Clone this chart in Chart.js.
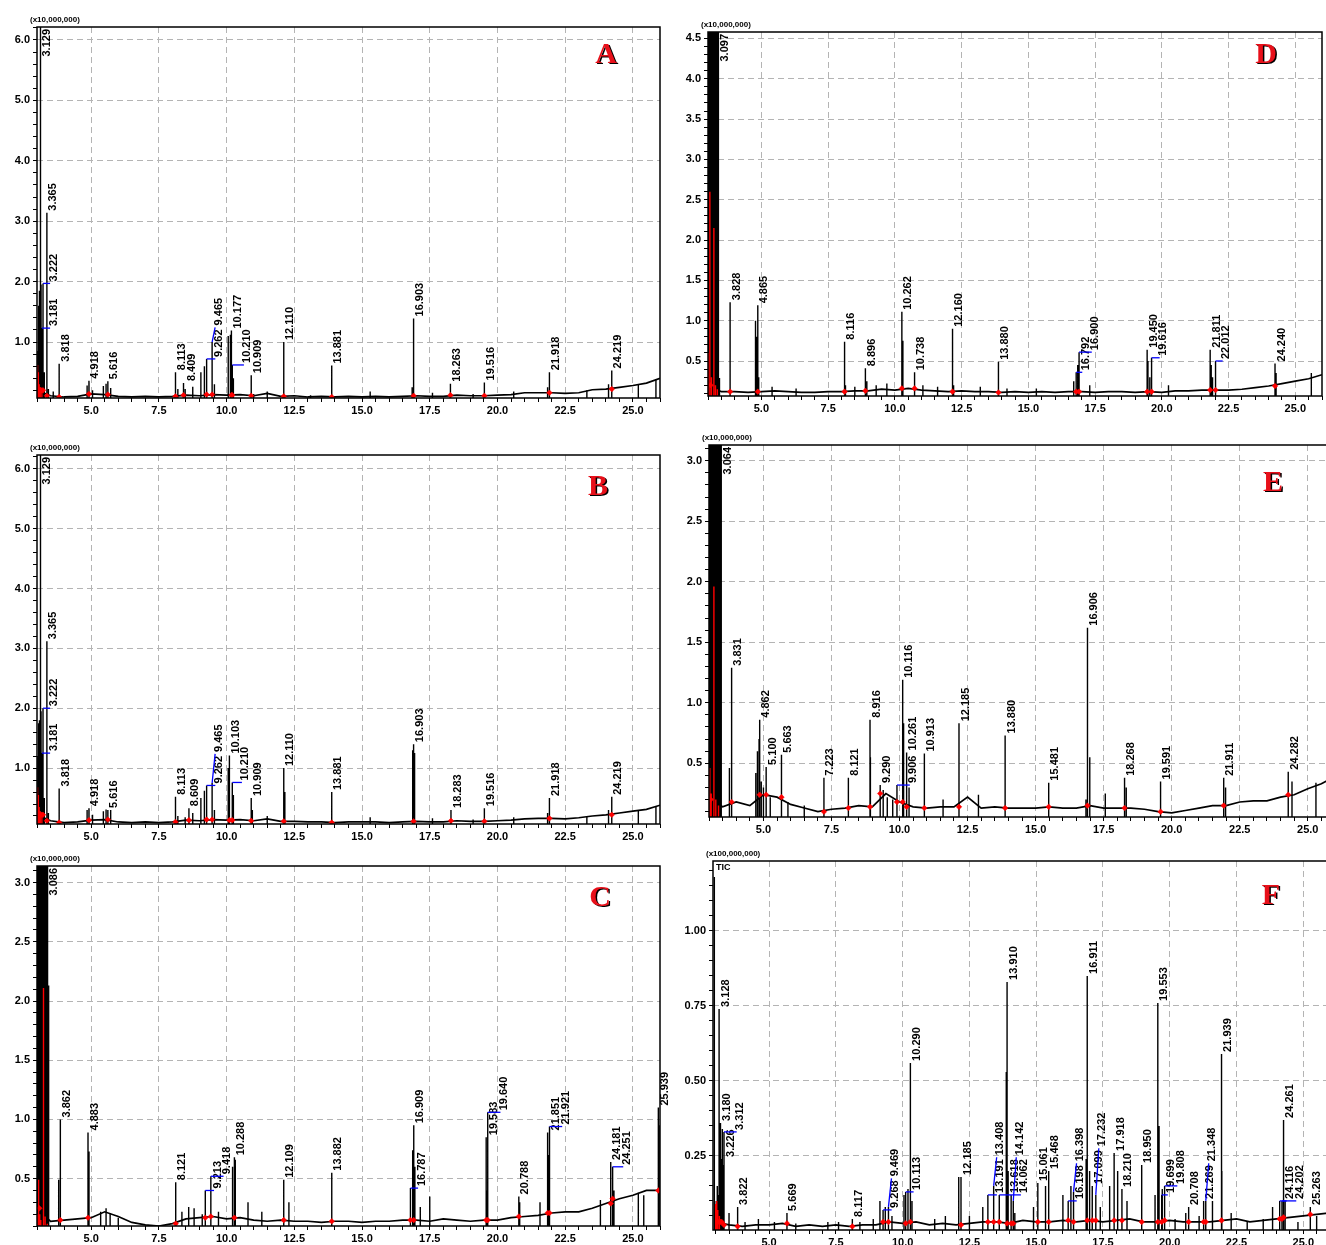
<!DOCTYPE html>
<html>
<head>
<meta charset="utf-8">
<script src="https://cdn.jsdelivr.net/npm/chart.js@4.4.1/dist/chart.umd.min.js"></script>
<style>
  html, body { margin: 0; padding: 0; background: #fff; overflow: hidden; width: 1326px; height: 1245px; }
  .panel { position: absolute; }
</style>
</head>
<body>
<script>
// baseline sampling times (min), shared by all six traces
const baseT = [3.0,3.5,4.0,4.5,5.0,5.5,6.0,6.5,7.0,7.5,8.0,8.5,9.0,9.5,10.0,10.5,11.0,11.5,12.0,12.5,13.0,13.5,14.0,14.5,15.0,15.5,16.0,16.5,17.0,17.5,18.0,18.5,19.0,19.5,20.0,20.5,21.0,21.5,22.0,22.5,23.0,23.5,24.0,24.5,25.0,25.5,26.0];

// ---- A ----
const baseA = [.20,.11,.09,.10,.14,.13,.10,.09,.10,.09, .10,.12,.11,.13,.12,.13,.11,.15,.10,.11, .09,.10,.09,.10,.09,.10,.09,.10,.11,.10, .10,.12,.11,.11,.12,.13,.16,.16,.16,.15, .16,.21,.22,.25,.28,.32,.40];
const rtA = [3.129,3.181,3.222,3.365,3.818,4.918,5.616,8.113,8.409,9.262,9.465,10.177,10.210,10.909,12.110,13.881,16.903,18.263,19.516,21.918,24.219];
const htA = [9,1.23,1.97,3.14,0.64,0.36,0.35,0.50,0.32,0.72,1.00,1.19,0.62,0.45,1.00,0.61,1.39,0.31,0.33,0.50,0.53];
const mrtA = [3.03,3.06,3.09,3.15,3.27,3.42,3.60,4.85,4.92,5.05,5.45,5.55,5.72,8.20,8.47,8.75,9.05,9.18,9.55,10.06,10.14,10.25,11.00,11.50,13.10,15.30,16.85,17.60,19.10,20.60,21.85,23.30,24.10,25.20,25.85];
const mhtA = [0.85,1.60,1.85,1.95,0.50,0.22,0.18,0.28,0.33,0.20,0.27,0.31,0.24,0.22,0.22,0.26,0.50,0.60,0.30,1.10,1.12,0.40,0.14,0.18,0.12,0.18,0.25,0.16,0.14,0.18,0.25,0.20,0.30,0.30,0.38];
const rrtA = [3.02,3.05,3.08,3.12,3.18];
const rhtA = [0.62,0.50,0.30,0.25,0.18];

// ---- B ----
const baseB = [.22,.12,.09,.10,.13,.14,.10,.09,.10,.09, .10,.13,.12,.14,.13,.14,.12,.15,.11,.11, .10,.10,.09,.10,.10,.10,.09,.10,.11,.10, .10,.12,.11,.11,.12,.13,.15,.16,.16,.15, .17,.20,.22,.25,.28,.31,.38];
const rtB = [3.129,3.181,3.222,3.365,3.818,4.918,5.616,8.113,8.609,9.262,9.465,10.103,10.210,10.909,12.110,13.881,16.903,18.283,19.516,21.918,24.219];
const htB = [9,1.25,2.0,3.12,0.66,0.33,0.30,0.52,0.33,0.71,0.75,1.21,0.76,0.50,1.00,0.60,1.40,0.30,0.33,0.50,0.52];
const mrtB = [3.03,3.06,3.09,3.15,3.27,3.42,4.85,4.92,5.05,5.45,5.55,5.72,8.20,8.47,8.75,9.05,9.18,9.55,10.06,10.25,10.95,11.50,12.15,15.30,16.87,16.94,17.60,19.10,20.60,21.85,23.30,24.10,25.20,25.85];
const mhtB = [1.20,1.75,1.80,1.95,0.50,0.25,0.30,0.33,0.22,0.28,0.31,0.30,0.20,0.18,0.25,0.50,0.62,0.30,1.00,0.55,0.30,0.20,0.60,0.18,1.30,1.25,0.16,0.14,0.18,0.25,0.20,0.30,0.30,0.36];
const rrtB = [3.02,3.05,3.08,3.12,3.18];
const rhtB = [0.68,0.55,0.35,0.28,0.20];

// ---- C ----
const baseC = [.25,.14,.15,.16,.17,.22,.18,.13,.11,.10, .12,.16,.17,.18,.16,.17,.15,.14,.15,.14, .14,.13,.14,.14,.13,.14,.14,.15,.15,.14, .16,.15,.14,.15,.15,.17,.18,.19,.21,.22, .22,.25,.29,.33,.36,.40,.40];
const rtC = [3.086,3.862,4.883,8.121,9.213,9.418,10.288,12.109,13.882,16.787,16.909,19.583,19.640,20.788,21.851,21.921,24.181,24.251,25.939];
const htC = [9,1.00,0.89,0.47,0.40,0.52,0.68,0.49,0.55,0.42,0.95,0.85,1.06,0.35,0.89,0.94,0.64,0.60,1.10];
const mrtC = [3.00,3.03,3.06,3.09,3.12,3.15,3.18,3.21,3.24,3.27,3.30,3.33,3.36,3.39,3.43,3.80,4.92,5.35,5.55,5.70,6.00,8.35,8.60,8.80,9.10,9.70,10.22,10.32,10.79,11.30,12.30,16.87,16.95,17.15,17.50,19.62,20.82,21.57,21.88,23.80,24.30,25.20,25.40,25.97];
const mhtC = [9,9,9,9,9,9,9,9,9,9,9,9,9,9,2.13,0.49,0.73,0.22,0.25,0.21,0.17,0.22,0.26,0.25,0.20,0.22,0.60,0.66,0.30,0.22,0.30,0.74,0.60,0.26,0.35,0.40,0.30,0.30,0.70,0.32,0.40,0.38,0.36,0.95];
const rrtC = [3.02,3.06,3.10,3.14,3.24,3.30,3.38];
const rhtC = [0.20,0.49,0.20,0.15,2.11,0.18,0.12];

// ---- D ----
const baseD = [.20,.12,.12,.11,.12,.13,.12,.11,.11,.12, .12,.13,.13,.15,.14,.16,.14,.13,.12,.13, .12,.12,.11,.12,.11,.12,.11,.12,.12,.11, .12,.12,.11,.12,.11,.13,.13,.14,.14,.14, .15,.17,.19,.22,.25,.28,.33];
const rtD = [3.097,3.828,4.865,8.116,8.896,10.262,10.738,12.160,13.880,16.792,16.900,19.450,19.616,21.811,22.012,24.240];
const htD = [9,1.23,1.19,0.74,0.41,1.11,0.36,0.90,0.49,0.36,0.61,0.64,0.54,0.64,0.50,0.47];
const mrtD = [3.00,3.03,3.06,3.09,3.12,3.15,3.18,3.21,3.24,3.27,3.30,3.33,3.36,3.39,3.43,4.78,4.83,4.90,5.40,6.30,8.15,8.50,8.95,9.30,9.70,10.30,11.05,11.60,12.20,13.20,14.20,15.30,16.70,16.85,17.30,19.48,19.55,20.25,21.85,21.90,24.28,25.60];
const mhtD = [9,9,9,9,9,9,9,9,9,9,9,9,9,9,0.29,1.00,0.80,0.30,0.18,0.16,0.20,0.18,0.25,0.20,0.22,0.75,0.20,0.18,0.20,0.18,0.16,0.16,0.25,0.45,0.20,0.50,0.30,0.20,0.45,0.30,0.35,0.35];
const rrtD = [3.01,3.07,3.13,3.22,3.28,3.35];
const rhtD = [0.60,2.60,0.30,2.15,0.20,0.15];

// ---- E ----
const baseE = [.20,.14,.18,.15,.24,.22,.16,.13,.10,.12, .13,.15,.14,.25,.18,.14,.13,.14,.14,.22, .13,.14,.13,.13,.13,.14,.13,.13,.15,.13, .13,.13,.12,.10,.09,.11,.13,.15,.15,.18, .19,.19,.22,.24,.29,.33,.39];
const rtE = [3.064,3.831,4.862,5.100,5.663,7.223,8.121,8.916,9.290,9.906,10.116,10.261,10.913,12.185,13.880,15.481,16.906,18.268,19.591,21.911,24.282];
const htE = [9,1.29,0.86,0.47,0.57,0.38,0.38,0.86,0.32,0.32,1.19,0.59,0.58,0.83,0.73,0.34,1.62,0.38,0.35,0.38,0.43];
const mrtE = [3.00,3.03,3.06,3.09,3.12,3.15,3.18,3.21,3.24,3.27,3.30,3.33,3.36,3.39,3.42,3.45,3.75,4.72,4.78,4.84,4.92,5.00,5.25,5.90,6.50,8.93,9.40,9.55,9.75,10.15,10.35,11.60,12.90,16.85,16.99,17.56,18.33,21.98,24.42,25.30,25.70];
const mhtE = [9,9,9,9,9,9,9,9,9,9,9,9,9,9,9,9,0.46,0.42,0.60,0.70,0.35,0.30,0.22,0.18,0.15,0.55,0.28,0.22,0.20,0.83,0.30,0.20,0.24,0.20,0.55,0.25,0.30,0.30,0.35,0.34,0.40];
const rrtE = [3.03,3.08,3.18,3.25,3.35];
const rhtE = [0.46,0.25,1.96,0.20,0.15];

// ---- F ----
const baseF = [.03,.02,.015,.02,.02,.025,.015,.02,.015,.02, .015,.02,.02,.03,.025,.03,.02,.025,.02,.025, .03,.03,.025,.035,.03,.03,.035,.03,.035,.03, .035,.04,.03,.03,.035,.03,.03,.03,.035,.04, .03,.035,.04,.045,.05,.055,.06];
const rtF = [3.128,3.180,3.226,3.312,3.822,5.669,8.117,9.268,9.469,10.113,10.290,12.185,13.191,13.408,13.618,13.910,14.062,14.142,15.061,15.468,16.198,16.398,16.911,17.099,17.232,17.918,18.210,18.950,19.553,19.699,19.808,20.708,21.269,21.348,21.939,24.116,24.202,24.261,25.263];
const htF = [0.74,0.36,0.24,0.33,0.08,0.06,0.04,0.07,0.08,0.13,0.56,0.18,0.12,0.15,0.12,0.83,0.12,0.10,0.16,0.20,0.10,0.13,0.85,0.15,0.12,0.26,0.14,0.22,0.76,0.12,0.15,0.08,0.10,0.10,0.59,0.10,0.10,0.37,0.08];
const mrtF = [2.95,3.02,3.06,3.10,3.20,3.25,3.30,3.50,4.10,4.60,5.20,6.00,7.20,7.60,8.40,8.90,9.15,9.35,9.60,10.05,10.20,10.35,11.20,11.60,12.10,12.50,13.00,13.88,13.95,14.20,14.90,15.35,16.00,16.30,16.87,17.00,17.40,17.75,18.05,18.40,19.45,19.60,19.72,20.20,20.60,21.10,21.60,21.95,22.30,22.90,23.50,23.85,24.32,24.80,25.50];
const mhtF = [1.18,0.10,0.15,0.12,0.20,0.34,0.22,0.06,0.03,0.04,0.03,0.025,0.03,0.03,0.03,0.04,0.10,0.08,0.05,0.12,0.14,0.10,0.04,0.05,0.18,0.05,0.08,0.53,0.20,0.06,0.08,0.15,0.12,0.15,0.24,0.20,0.08,0.15,0.20,0.10,0.12,0.35,0.14,0.04,0.06,0.05,0.10,0.20,0.06,0.03,0.04,0.08,0.10,0.03,0.05];
const rrtF = [3.00,3.04,3.08,3.14];
const rhtF = [0.09,0.10,0.07,0.05];

// panel layout (page pixels of the plot area) and axis setup
const panels = [
  { id: 'A', left: 37, top: 27, right: 660, bottom: 398, xMin: 3.0, yMin: 0.073, yMax: 6.215, major: 1, minor: 0.2, dec: 1,
    mult: '(x10,000,000)', lx: 606, ly: 55, rt: rtA, ht: htA, mrt: mrtA, mht: mhtA, rrt: rrtA, rht: rhtA, base: baseA },
  { id: 'B', left: 37, top: 455, right: 660, bottom: 824, xMin: 3.0, yMin: 0.066, yMax: 6.23, major: 1, minor: 0.2, dec: 1,
    mult: '(x10,000,000)', lx: 598, ly: 487, rt: rtB, ht: htB, mrt: mrtB, mht: mhtB, rrt: rrtB, rht: rhtB, base: baseB },
  { id: 'C', left: 37, top: 866, right: 660, bottom: 1226, xMin: 3.0, yMin: 0.10, yMax: 3.14, major: 0.5, minor: 0.1, dec: 1,
    mult: '(x10,000,000)', lx: 600, ly: 898, rt: rtC, ht: htC, mrt: mrtC, mht: mhtC, rrt: rrtC, rht: rhtC, base: baseC },
  { id: 'D', left: 708, top: 32, right: 1322, bottom: 396, xMin: 3.0, yMin: 0.066, yMax: 4.58, major: 0.5, minor: 0.1, dec: 1,
    mult: '(x10,000,000)', lx: 1266, ly: 55, rt: rtD, ht: htD, mrt: mrtD, mht: mhtD, rrt: rrtD, rht: rhtD, base: baseD },
  { id: 'E', left: 709, top: 445, right: 1335, bottom: 817, xMin: 3.0, yMin: 0.056, yMax: 3.13, major: 0.5, minor: 0.1, dec: 1,
    mult: '(x10,000,000)', lx: 1273, ly: 483, rt: rtE, ht: htE, mrt: mrtE, mht: mhtE, rrt: rrtE, rht: rhtE, base: baseE },
  { id: 'F', left: 713, top: 861, right: 1330, bottom: 1230, xMin: 2.9, yMin: 0.003, yMax: 1.233, major: 0.25, minor: 0.05, dec: 2,
    mult: '(x100,000,000)', lx: 1271, ly: 896, rt: rtF, ht: htF, mrt: mrtF, mht: mhtF, rrt: rrtF, rht: rhtF, base: baseF, corner: 'TIC' }
];

const X_MAX = 26.0;
const YW = 36, XH = 24, PT = 26, PR = 14, LW = 9, MAX_SHIFT = 14;
const FONT = '"Liberation Sans", Arial, sans-serif';

function isMajor(v, step) {
  return Math.abs(v / step - Math.round(v / step)) < 1e-6;
}

function nearestBase(t, base) {
  let best = 0;
  for (let i = 1; i < baseT.length; i++) {
    if (Math.abs(baseT[i] - t) < Math.abs(baseT[best] - t)) best = i;
  }
  return base[best];
}

// each peak becomes a vertical stroke, broken by null gaps
function segments(ts, hs) {
  const pts = [];
  ts.map((t, i) => [t, hs[i]]).sort((a, b) => a[0] - b[0]).forEach(([t, h]) => {
    pts.push({ x: t, y: 0 }, { x: t, y: h }, { x: t, y: null });
  });
  return pts;
}

function overlaps(r, placed) {
  return placed.find(q => r.x0 < q.x1 && r.x1 > q.x0 && r.y0 < q.y1 && r.y1 > q.y0);
}

function makeDecor(p, cl, ct) {
  return {
    id: 'decor' + p.id,
    afterDatasetsDraw(chart) {
      const { ctx, chartArea: a, scales: { x, y } } = chart;
      ctx.save();
      ctx.font = 'bold 11px ' + FONT;
      const lines = [];
      p.rt.forEach((t, i) => lines.push({ px: x.getPixelForValue(t), top: y.getPixelForValue(Math.min(p.ht[i], p.yMax)) }));
      p.mrt.forEach((t, i) => lines.push({ px: x.getPixelForValue(t), top: y.getPixelForValue(Math.min(p.mht[i], p.yMax)) }));

      const placed = [];
      const order = p.rt.map((t, i) => i).sort((i, j) => p.rt[i] - p.rt[j]);
      order.forEach(i => {
        const txt = p.rt[i].toFixed(3);
        const len = ctx.measureText(txt).width;
        const px = x.getPixelForValue(p.rt[i]);
        const clipped = p.ht[i] > p.yMax;
        const peakY = y.getPixelForValue(Math.min(p.ht[i], p.yMax));
        let py = peakY;
        if (py - len - 4 < a.top) py = a.top + len + 4;
        let x0 = px + 1;
        for (let k = 0; k < 60; k++) {
          let moved = false;
          for (const l of lines) {
            if (Math.abs(l.px - px) > 0.3 && l.px > x0 - 0.5 && l.px < x0 + LW && l.top < py - 2) {
              x0 = l.px + 1.2; moved = true;
            }
          }
          const hit = overlaps({ x0, x1: x0 + LW, y0: py - len - 3, y1: py - 2 }, placed);
          if (hit) { x0 = hit.x1 + 0.5; moved = true; }
          if (!moved) break;
        }
        if (!clipped && x0 - px > MAX_SHIFT) {
          // too far sideways: stack the label above its neighbours instead
          x0 = px + 1;
          for (let k = 0; k < 30; k++) {
            const hit = overlaps({ x0, x1: x0 + LW, y0: py - len - 3, y1: py - 2 }, placed);
            if (!hit) break;
            py = hit.y0 - 1;
          }
        }
        placed.push({ x0, x1: x0 + LW, y0: py - len - 3, y1: py - 2 });
        if (!clipped && (x0 - px > 4 || peakY - py > 4)) {
          ctx.strokeStyle = '#0000ff';
          ctx.lineWidth = 1.3;
          ctx.beginPath();
          ctx.moveTo(px, peakY);
          ctx.lineTo(x0 + 2, py);
          ctx.stroke();
        }
        ctx.save();
        ctx.translate(x0, py - 2);
        ctx.rotate(-Math.PI / 2);
        ctx.fillStyle = '#000';
        ctx.textAlign = 'left';
        ctx.textBaseline = 'top';
        ctx.fillText(txt, 0, 0);
        ctx.restore();
      });
      ctx.restore();
    },
    afterDraw(chart) {
      const { ctx, chartArea: a } = chart;
      ctx.save();
      ctx.strokeStyle = '#000';
      ctx.lineWidth = 1.5;
      ctx.strokeRect(a.left, a.top, a.right - a.left, a.bottom - a.top);

      ctx.fillStyle = '#000';
      ctx.font = 'bold 8px ' + FONT;
      ctx.textAlign = 'left';
      ctx.textBaseline = 'bottom';
      ctx.fillText(p.mult, a.left - 7, a.top - 3);
      if (p.corner) {
        ctx.font = 'bold 9px ' + FONT;
        ctx.textBaseline = 'top';
        ctx.fillText(p.corner, a.left + 3, a.top + 2);
      }

      ctx.font = 'bold 30px "Liberation Serif", "Times New Roman", serif';
      ctx.textAlign = 'center';
      ctx.textBaseline = 'middle';
      ctx.fillStyle = '#000';
      ctx.fillText(p.id, p.lx - cl + 1.5, p.ly - ct + 1.5);
      ctx.fillStyle = '#e8101a';
      ctx.fillText(p.id, p.lx - cl, p.ly - ct);
      ctx.restore();
    }
  };
}

panels.forEach(p => {
  const cl = p.left - YW, ct = p.top - PT;
  const cw = p.right + PR - cl, ch = p.bottom + XH - ct;
  const div = document.createElement('div');
  div.className = 'panel';
  div.style.left = cl + 'px';
  div.style.top = ct + 'px';
  const cv = document.createElement('canvas');
  cv.width = cw; cv.height = ch;
  cv.style.width = cw + 'px'; cv.style.height = ch + 'px';
  div.appendChild(cv);
  document.body.appendChild(div);

  const markers = p.rt.map(t => ({ x: t, y: nearestBase(t, p.base) }));
  const baseline = baseT.map((t, i) => ({ x: t, y: p.base[i] }));

  new Chart(cv, {
    type: 'line',
    data: {
      datasets: [
        { data: markers, showLine: false, pointStyle: 'rectRot', pointRadius: 2.8,
          pointBackgroundColor: '#ff0000', pointBorderColor: '#ff0000', pointBorderWidth: 0.5, order: 0 },
        { data: segments(p.rrt, p.rht), borderColor: '#ff0000', borderWidth: 1.4, pointRadius: 0,
          spanGaps: false, clip: 0, order: 1 },
        { data: baseline, borderColor: '#000', borderWidth: 1.7, pointRadius: 0, tension: 0, order: 2 },
        { data: segments(p.rt.concat(p.mrt), p.ht.concat(p.mht)), borderColor: '#000', borderWidth: 1.4,
          pointRadius: 0, spanGaps: false, clip: 0, order: 3 }
      ]
    },
    options: {
      responsive: false,
      animation: false,
      devicePixelRatio: 1,
      layout: { padding: { left: 0, top: PT, right: PR, bottom: 0 } },
      plugins: { legend: { display: false }, tooltip: { enabled: false } },
      scales: {
        x: {
          type: 'linear', min: p.xMin, max: X_MAX, offset: false,
          afterFit: s => { s.height = XH; },
          ticks: {
            stepSize: 0.5, autoSkip: false, maxRotation: 0, minRotation: 0, includeBounds: false, padding: 2,
            color: '#000', font: { family: FONT, size: 11, weight: 'bold' },
            callback: v => isMajor(v, 2.5) ? Number(v).toFixed(1) : ''
          },
          grid: {
            color: c => (c.tick && isMajor(c.tick.value, 2.5)) ? '#b4b4b4' : 'rgba(0,0,0,0)',
            tickColor: '#000', tickLength: 4, lineWidth: 1
          },
          border: { display: false, dash: [6, 4] }
        },
        y: {
          type: 'linear', min: p.yMin, max: p.yMax,
          afterFit: s => { s.width = YW; },
          ticks: {
            stepSize: p.minor, autoSkip: false, includeBounds: false, padding: 3,
            color: '#000', font: { family: FONT, size: 11, weight: 'bold' },
            callback: v => isMajor(v, p.major) ? Number(v).toFixed(p.dec) : ''
          },
          grid: {
            color: c => (c.tick && isMajor(c.tick.value, p.major)) ? '#b4b4b4' : 'rgba(0,0,0,0)',
            tickColor: '#000', tickLength: 4, lineWidth: 1
          },
          border: { display: false, dash: [6, 4] }
        }
      }
    },
    plugins: [makeDecor(p, cl, ct)]
  });
});
</script>
</body>
</html>
